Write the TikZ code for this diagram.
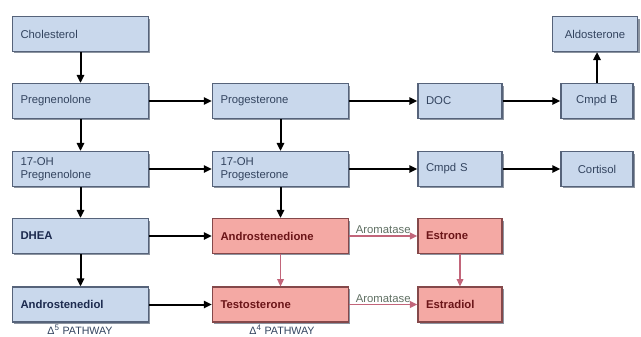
\documentclass[tikz,border=0pt]{standalone}
\usepackage{fontspec}
\setmainfont{Liberation Sans}
\usetikzlibrary{arrows.meta,shadows}
\definecolor{bluefill}{HTML}{C9D8EC}
\definecolor{blueedge}{HTML}{56637A}
\definecolor{redfill}{HTML}{F4A9A4}
\definecolor{rededge}{HTML}{84484A}
\definecolor{bluetext}{HTML}{33445F}
\definecolor{navytext}{HTML}{1C2A4E}
\definecolor{redtext}{HTML}{6B1518}
\definecolor{redarrow}{HTML}{C2657A}
\definecolor{shadowc}{HTML}{7F8896}
\definecolor{aromtext}{HTML}{5F6F62}
\begin{document}
\begin{tikzpicture}[x=0.75pt,y=-0.75pt,
  font=\fontsize{8.5}{9.5}\selectfont,
  box/.style={draw=blueedge, line width=1.1pt, fill=bluefill, minimum height=26pt,
    inner xsep=6pt, inner ysep=1pt, align=left, text=bluetext,
    drop shadow={shadow xshift=1.4pt, shadow yshift=-1.4pt, fill=shadowc, opacity=0.9}},
  boldbox/.style={box, text=navytext, font=\fontsize{8.5}{9.5}\selectfont\bfseries},
  redbox/.style={box, draw=rededge, fill=redfill, text=redtext,
    font=\fontsize{8.5}{9.5}\selectfont\bfseries},
  wa/.style={text width=90pt},
  wc/.style={text width=51pt},
  wd/.style={text width=42pt, align=center},
  we/.style={text width=52pt, align=center},
  arr/.style={-{Triangle[length=6pt,width=5.5pt]}, line width=1.5pt, draw=black},
  redarr/.style={-{Triangle[length=5.5pt,width=5pt]}, line width=1.1pt, draw=redarrow},
  lab/.style={font=\fontsize{8.5}{9.5}\selectfont, text=aromtext, inner sep=1pt},
  path/.style={font=\fontsize{8}{9}\selectfont, text=bluetext, inner sep=0.5pt}
]
\clip (0,0) rectangle (641,336);
% column 1
\node[box,wa] (chol) at (80.5,34) {Cholesterol};
\node[box,wa] (preg) at (80.5,101) {Pregnenolone};
\node[box,wa] (ohpreg) at (80.5,169) {17-OH\\Pregnenolone};
\node[boldbox,wa] (dhea) at (80.5,236) {DHEA};
\node[boldbox,wa] (adiol) at (80.5,304.5) {Androstenediol};
% column 2
\node[box,wa] (prog) at (280.5,101) {Progesterone};
\node[box,wa] (ohprog) at (280.5,169) {17-OH\\Progesterone};
\node[redbox,wa] (andione) at (280.5,236) {Androstenedione};
\node[redbox,wa] (testo) at (280.5,304.5) {Testosterone};
% column 3
\node[box,wc] (doc) at (460,101) {DOC};
\node[box,wc] (cmpds) at (460,169) {Cmpd S};
\node[redbox,wc] (estrone) at (460,236) {Estrone};
\node[redbox,wc] (estradiol) at (460,304.5) {Estradiol};
% column 4
\node[box,we] (aldo) at (595,34) {Aldosterone};
\node[box,wd] (cmpdb) at (597,101) {Cmpd B};
\node[box,wd] (cortisol) at (597,169) {Cortisol};
% black arrows
\draw[arr] (chol) -- (preg);
\draw[arr] (preg) -- (ohpreg);
\draw[arr] (ohpreg) -- (dhea);
\draw[arr] (dhea) -- (adiol);
\draw[arr] (prog) -- (ohprog);
\draw[arr] (ohprog) -- (andione);
\draw[arr] (preg) -- (prog);
\draw[arr] (ohpreg) -- (ohprog);
\draw[arr] (dhea) -- (andione);
\draw[arr] (adiol) -- (testo);
\draw[arr] (prog) -- (doc);
\draw[arr] (doc) -- (cmpdb);
\draw[arr] (ohprog) -- (cmpds);
\draw[arr] (cmpds) -- (cortisol);
\draw[arr] (cmpdb.north) -- (cmpdb.north |- aldo.south);
% red arrows
\draw[redarr] (andione) -- (testo);
\draw[redarr] (estrone) -- (estradiol);
\draw[redarr] (andione) -- node[lab, above] {Aromatase} (estrone);
\draw[redarr] (testo) -- node[lab, above] {Aromatase} (estradiol);
% pathway labels
\node[path] (p5) at (80,330) {Δ\textsuperscript{5} PATHWAY};
\node[path] (p4) at (282,330) {Δ\textsuperscript{4} PATHWAY};
\end{tikzpicture}
\end{document}
